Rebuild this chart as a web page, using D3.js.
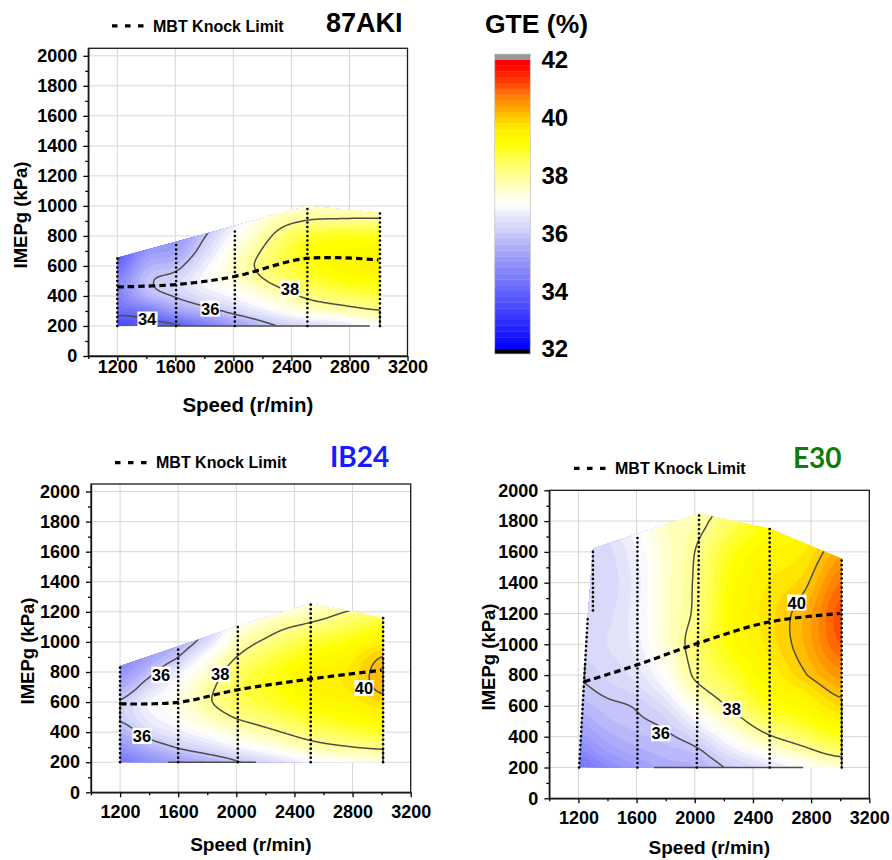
<!DOCTYPE html>
<html>
<head>
<meta charset="utf-8">
<script src="https://cdn.jsdelivr.net/npm/d3@7"></script>
<style>
  body { margin: 0; background: #fff; }
  svg text { font-family: "Liberation Sans", Arial, sans-serif; font-weight: bold; fill: #000; }
</style>
</head>
<body>
<svg id="fig" width="892" height="860"></svg>
<script>
// ---- GTE (%) maps: rows = engine speed (r/min), columns = IMEPg (kPa) ----
const speedGrid = [1200, 1400, 1600, 1800, 2000, 2250, 2500, 2750, 3000];

// 87AKI
const load87 = [200, 300, 400, 500, 600, 700, 800, 900, 1000];
const gte87 = [
  [33.5, 34.2, 34.6, 34.7, 34.15, 33.8, 33.6, 33.5, 33.5],
  [33.7, 34.45, 35.6, 35.85, 35.5, 35.0, 34.6, 34.3, 34.1],
  [33.9, 35.2, 36.05, 36.25, 35.8, 35.3, 35.0, 34.8, 34.6],
  [34.5, 35.7, 36.5, 36.9, 36.7, 36.3, 35.95, 35.6, 35.3],
  [35.2, 36.2, 36.9, 37.4, 37.55, 37.35, 37.0, 36.6, 36.3],
  [35.9, 36.8, 37.5, 38.05, 38.3, 38.2, 37.95, 37.6, 37.3],
  [36.3, 37.4, 38.1, 38.6, 38.9, 39.0, 38.7, 38.02, 37.5],
  [36.6, 37.7, 38.4, 39.0, 39.3, 39.2, 38.9, 38.1, 37.6],
  [37.1, 37.95, 38.6, 39.1, 39.45, 39.3, 38.9, 38.1, 37.7]
];
// measured sweeps (start/end of each speed column)
const sweeps87 = [
  [[1200, 200], [1200, 655]], [[1605, 200], [1605, 760]], [[2010, 200], [2010, 855]],
  [[2510, 200], [2510, 1000]], [[3010, 200], [3010, 955]]
];
const knock87 = [[1200, 460], [1600, 476], [2000, 528], [2500, 650], [3000, 640]];
const edges87 = [[[1465, 200], [2940, 200]], [[3010, 305], [3010, 200]]];
const labelLevels87 = [34, 36, 38];
const labelPos87 = [[1405, 243], [1840, 316], [2390, 449]];

// IB24
const loadIB = [200, 300, 400, 500, 600, 700, 800, 900, 1000, 1100, 1200, 1300];
const gteIB = [
  [34.4, 35.0, 35.6, 36.1, 36.05, 35.5, 35.0, 34.6, 34.4, 34.3, 34.2, 34.2],
  [34.9, 35.6, 36.3, 36.7, 36.8, 36.35, 35.8, 35.3, 35.0, 34.8, 34.7, 34.6],
  [35.3, 36.05, 36.7, 37.1, 37.25, 37.1, 36.7, 36.0, 35.5, 35.2, 35.0, 34.9],
  [35.6, 36.4, 37.1, 37.6, 37.9, 37.8, 37.5, 37.1, 36.4, 36.0, 35.8, 35.6],
  [35.95, 36.8, 37.5, 38.05, 38.4, 38.5, 38.35, 38.0, 37.6, 37.2, 36.9, 36.7],
  [36.4, 37.25, 37.9, 38.4, 38.8, 38.95, 38.9, 38.6, 38.2, 37.8, 37.4, 37.1],
  [36.9, 37.7, 38.3, 38.8, 39.2, 39.4, 39.4, 39.1, 38.7, 38.15, 37.6, 37.2],
  [37.2, 37.95, 38.6, 39.1, 39.4, 39.6, 39.6, 39.4, 39.0, 38.5, 38.0, 37.5],
  [37.4, 38.1, 38.8, 39.35, 39.8, 40.1, 40.15, 40.0, 39.5, 38.9, 38.3, 37.8]
];
const sweepsIB = [
  [[1200, 200], [1200, 840]], [[1600, 200], [1600, 960]], [[2010, 200], [2010, 1104]],
  [[2512, 200], [2512, 1255]], [[3010, 200], [3010, 1160]]
];
const knockIB = [[1200, 588], [1600, 598], [2000, 680], [2500, 752], [3000, 812]];
const edgesIB = [[[1530, 200], [2135, 200]], [[1200, 470], [1200, 615]],
                 [[3010, 282], [3010, 200]], [[3010, 660], [3010, 900]]];
const labelLevelsIB = [36, 38, 36, 40];
const labelPosIB = [[1482, 782], [1889, 787], [1351, 375], [2879, 693]];

// E30
const loadE30 = [200, 300, 400, 500, 600, 700, 800, 1000, 1200, 1400, 1600, 1800, 1900];
const gteE30 = [
  [34.3, 34.7, 35.1, 35.4, 35.7, 35.9, 36.05, 36.3, 36.4, 36.4, 36.4, 36.4, 36.4],
  [34.8, 35.2, 35.5, 35.75, 35.9, 36.1, 36.25, 36.4, 36.35, 36.3, 36.35, 36.5, 36.5],
  [35.2, 35.5, 35.75, 35.92, 36.05, 36.3, 36.5, 36.7, 36.75, 36.7, 36.8, 37.0, 37.0],
  [35.5, 35.7, 35.9, 36.15, 36.45, 36.8, 37.1, 37.45, 37.5, 37.5, 37.5, 37.6, 37.6],
  [35.6, 35.85, 36.3, 36.8, 37.3, 37.75, 38.1, 38.28, 38.1, 38.06, 38.0, 37.8, 37.7],
  [36.1, 36.6, 37.15, 37.65, 38.1, 38.45, 38.75, 39.1, 39.2, 39.1, 38.9, 38.4, 38.3],
  [36.5, 37.2, 37.9, 38.45, 38.9, 39.2, 39.4, 39.65, 39.7, 39.6, 39.35, 39.1, 39.0],
  [37.0, 37.75, 38.4, 38.9, 39.3, 39.6, 39.95, 40.2, 40.2, 39.9, 39.6, 39.3, 39.2],
  [37.45, 38.25, 38.9, 39.4, 39.8, 40.15, 40.5, 41.0, 41.1, 40.8, 40.3, 39.8, 39.6]
];
const sweepsE30 = [
  [[1205, 200], [1265, 1180]], [[1300, 1220], [1300, 1620]], [[1606, 200], [1606, 1710]],
  [[2014, 200], [2030, 1850]], [[2515, 200], [2515, 1750]], [[3010, 200], [3010, 1555]]
];
const knockE30 = [[1240, 757], [1600, 865], [2000, 1000], [2500, 1143], [3000, 1200]];
const edgesE30 = [[[1720, 200], [2745, 200]], [[3010, 650], [3010, 200]], [[1239, 757], [1246, 876]]];
const labelLevelsE30 = [36, 38, 40];
const labelPosE30 = [[1766, 422], [2254, 577], [2701, 1271]];

// contour line levels and colour scale
const lineLevels = [34, 36, 38, 40];
const gteStops = [32, 33.2, 34.3, 35.5, 36.1, 36.65, 37.0, 37.35, 37.8, 38.4, 39.1, 39.6, 40.1, 40.7, 41.25, 41.85, 42];
const gteColors = ["#0000ff", "#3c3cff", "#7373fa", "#acacfa", "#d0d0fa", "#eaeafa", "#ffffff", "#ffffe1",
                   "#ffffaa", "#ffff64", "#ffff00", "#fff000", "#ffbe00", "#ff8200", "#ff3c00", "#ff0000", "#ff0000"];
const colorbarTicks = [32, 34, 36, 38, 40, 42];

const color = d3.scaleLinear().domain(gteStops).range(gteColors).interpolate(d3.interpolateRgb).clamp(true);
const svg = d3.select("#fig");

// fractional index of v within a monotone axis, clamped to its ends
function fracIndex(arr, v) {
  const n = arr.length;
  if (v <= arr[0]) return 0;
  if (v >= arr[n - 1]) return n - 1;
  let k = 0;
  while (v > arr[k + 1]) k++;
  return k + (v - arr[k]) / (arr[k + 1] - arr[k]);
}

// smooth (Catmull-Rom) surface through the table
function makeField(xs, ys, table) {
  const nx = xs.length, ny = ys.length;
  const g = (i, j) => table[Math.max(0, Math.min(nx - 1, i))][Math.max(0, Math.min(ny - 1, j))];
  const cr = (p0, p1, p2, p3, t) =>
    0.5 * (2 * p1 + (-p0 + p2) * t + (2 * p0 - 5 * p1 + 4 * p2 - p3) * t * t + (-p0 + 3 * p1 - 3 * p2 + p3) * t * t * t);
  return (x, y) => {
    const fx = fracIndex(xs, x), fy = fracIndex(ys, y);
    let i = Math.min(Math.floor(fx), nx - 2), j = Math.min(Math.floor(fy), ny - 2);
    const tx = fx - i, ty = fy - j;
    const c = [];
    for (let dj = -1; dj <= 2; dj++) c.push(cr(g(i - 1, j + dj), g(i, j + dj), g(i + 1, j + dj), g(i + 2, j + dj), tx));
    return cr(c[0], c[1], c[2], c[3], ty);
  };
}

let clipId = 0;
function drawChart(cfg) {
  const g = svg.append("g");
  const xS = d3.scaleLinear([1000, 3200], [cfg.x0, cfg.x1]);
  const yS = d3.scaleLinear([0, cfg.yMax], [cfg.y1, cfg.y0]);

  // grid
  g.append("g").selectAll("line").data(d3.range(1200, 3200, 400)).join("line")
    .attr("x1", d => xS(d)).attr("x2", d => xS(d)).attr("y1", cfg.y0).attr("y2", cfg.y1)
    .attr("stroke", "#d6d6d6").attr("stroke-width", 1);
  g.append("g").selectAll("line").data(d3.range(200, Math.min(2001, cfg.yMax), 200)).join("line")
    .attr("x1", cfg.x0).attr("x2", cfg.x1).attr("y1", d => yS(d)).attr("y2", d => yS(d))
    .attr("stroke", "#d6d6d6").attr("stroke-width", 1);

  // measured region
  const pts = cfg.sweeps.flat();
  const hull = d3.polygonHull(pts.map(p => [xS(p[0]), yS(p[1])]));
  const id = "region" + (clipId++);
  svg.append("defs").append("clipPath").attr("id", id)
    .append("path").attr("d", "M" + hull.join("L") + "Z");

  // sampled surface
  const field = makeField(speedGrid, cfg.loads, cfg.table);
  const sx = 8, sy = 8, gx0 = 1150, gy0 = 150;
  const nx = Math.ceil((3070 - gx0) / sx) + 1;
  const ny = Math.ceil((d3.max(pts, p => p[1]) + 70 - gy0) / sy) + 1;
  const values = new Float64Array(nx * ny);
  for (let j = 0; j < ny; j++)
    for (let i = 0; i < nx; i++) values[j * nx + i] = field(gx0 + i * sx, gy0 + j * sy);
  const proj = d3.geoTransform({
    point(cx, cy) { this.stream.point(xS(gx0 + (cx - 0.5) * sx), yS(gy0 + (cy - 0.5) * sy)); }
  });
  const path = d3.geoPath(proj);

  const [vmin, vmax] = d3.extent(values);
  const bands = d3.range(Math.floor(vmin * 5), Math.ceil(vmax * 5)).map(k => k / 5);
  const filled = d3.contours().size([nx, ny]).thresholds(bands)(values);
  const body = g.append("g").attr("clip-path", `url(#${id})`);
  body.selectAll("path.band").data(filled).join("path").attr("class", "band")
    .attr("d", path).attr("fill", d => color(d.value + 0.1)).attr("stroke", "none");

  const iso = d3.contours().size([nx, ny]).thresholds(lineLevels)(values);
  body.selectAll("path.iso").data(iso).join("path").attr("class", "iso")
    .attr("d", path).attr("fill", "none").attr("stroke", "#4d4d4d").attr("stroke-width", 1.5);

  const line = d3.line().x(d => xS(d[0])).y(d => yS(d[1]));
  g.append("g").selectAll("path").data(cfg.edges).join("path")
    .attr("d", line).attr("fill", "none").attr("stroke", "#4d4d4d").attr("stroke-width", 1.5);

  // measurement sweeps
  g.append("g").selectAll("path").data(cfg.sweeps).join("path")
    .attr("d", line).attr("fill", "none").attr("stroke", "#000").attr("stroke-width", 2.7)
    .attr("stroke-linecap", "round").attr("stroke-dasharray", "0,4.5");

  // MBT knock limit
  g.append("path").datum(cfg.knock)
    .attr("d", d3.line().x(d => xS(d[0])).y(d => yS(d[1])).curve(d3.curveCatmullRom.alpha(0.5)))
    .attr("fill", "none").attr("stroke", "#000").attr("stroke-width", 3.2).attr("stroke-dasharray", "6.5,4");

  // contour labels
  cfg.labelLevels.forEach((lv, k) => {
    const [sp, ld] = cfg.labelPos[k];
    const lg = g.append("g");
    const t = lg.append("text").attr("x", xS(sp)).attr("y", yS(ld)).attr("text-anchor", "middle")
      .attr("dy", "0.36em").style("font-size", "16.5px").text(lv);
    const b = t.node().getBBox();
    lg.insert("rect", "text").attr("x", b.x - 0.5).attr("y", yS(ld) - 8).attr("width", b.width + 1)
      .attr("height", 16).attr("fill", "#fff");
  });

  // axes
  const styleAxis = sel => {
    sel.selectAll("path,line").attr("stroke", "#000").attr("stroke-width", 1.3);
    sel.selectAll("text").style("font-size", "18px").style("font-weight", "bold").attr("fill", "#000");
  };
  g.append("g").attr("transform", `translate(0,${cfg.y1})`)
    .call(d3.axisBottom(xS).tickValues(d3.range(1200, 3201, 400)).tickSize(5).tickSizeOuter(0)
      .tickPadding(cfg.xPad).tickFormat(d3.format("d"))).call(styleAxis);
  g.append("g").attr("transform", `translate(0,${cfg.y1})`)
    .call(d3.axisBottom(xS).tickValues(d3.range(1000, 3201, 400)).tickSize(3).tickSizeOuter(0).tickFormat(""))
    .call(styleAxis).select(".domain").remove();
  g.append("g").attr("transform", `translate(${cfg.x0},0)`)
    .call(d3.axisLeft(yS).tickValues(d3.range(0, 2001, 200)).tickSize(5).tickSizeOuter(0)
      .tickPadding(6).tickFormat(d3.format("d"))).call(styleAxis);
  g.append("g").attr("transform", `translate(${cfg.x0},0)`)
    .call(d3.axisLeft(yS).tickValues(d3.range(100, 2001, 200)).tickSize(3).tickSizeOuter(0).tickFormat(""))
    .call(styleAxis).select(".domain").remove();
  g.append("rect").attr("x", cfg.x0).attr("y", cfg.y0).attr("width", cfg.x1 - cfg.x0)
    .attr("height", cfg.y1 - cfg.y0).attr("fill", "none").attr("stroke", "#1a1a1a").attr("stroke-width", 1.3);

  // axis titles
  g.append("text").attr("x", (cfg.x0 + cfg.x1) / 2).attr("y", cfg.speedY).attr("text-anchor", "middle")
    .style("font-size", cfg.speedSize + "px").text("Speed (r/min)");
  g.append("text").attr("transform", `translate(${cfg.imepX},${cfg.imepY}) rotate(-90)`)
    .attr("text-anchor", "middle").style("font-size", "18.5px").text("IMEPg (kPa)");

  // legend
  g.append("line").attr("x1", cfg.legX).attr("x2", cfg.legX + 31.5).attr("y1", cfg.legY).attr("y2", cfg.legY)
    .attr("stroke", "#000").attr("stroke-width", 3.2).attr("stroke-dasharray", "5.5,7.5");
  g.append("text").attr("x", cfg.legX + 41).attr("y", cfg.legY + 5.7).style("font-size", "16px").text("MBT Knock Limit");

  // fuel name
  g.append("text").attr("x", cfg.title.x).attr("y", cfg.title.y)
    .style("font-family", cfg.title.font).style("font-size", cfg.title.size + "px")
    .style("fill", cfg.title.color).text(cfg.title.text);
}

drawChart({
  x0: 88.3, x1: 407.5, y0: 48.3, y1: 356, yMax: 2050, xPad: -0.5,
  loads: load87, table: gte87, sweeps: sweeps87, knock: knock87, edges: edges87,
  labelLevels: labelLevels87, labelPos: labelPos87,
  speedY: 412, speedSize: 20.5, imepX: 27, imepY: 215, legX: 112, legY: 25.8,
  title: { text: "87AKI", x: 326, y: 31.7, size: 27, color: "#000", font: "Liberation Sans" }
});
drawChart({
  x0: 91, x1: 410.7, y0: 484, y1: 792.3, yMax: 2050, xPad: 8,
  loads: loadIB, table: gteIB, sweeps: sweepsIB, knock: knockIB, edges: edgesIB,
  labelLevels: labelLevelsIB, labelPos: labelPosIB,
  speedY: 850.5, speedSize: 19, imepX: 33.5, imepY: 651, legX: 115, legY: 462.7,
  title: { text: "IB24", x: 330, y: 467.3, size: 28, color: "#1a1aff", font: "Lato" }
});
drawChart({
  x0: 549.3, x1: 869.3, y0: 490.3, y1: 798.3, yMax: 2000, xPad: 8,
  loads: loadE30, table: gteE30, sweeps: sweepsE30, knock: knockE30, edges: edgesE30,
  labelLevels: labelLevelsE30, labelPos: labelPosE30,
  speedY: 854, speedSize: 19, imepX: 495, imepY: 657, legX: 574, legY: 468.3,
  title: { text: "E30", x: 793, y: 468.3, size: 28, color: "#0a7d0a", font: "Lato" }
});

// colour bar
const cb = svg.append("g");
const cbY = d3.scaleLinear([32, 42], [348.7, 59.7]);
cb.append("rect").attr("x", 494.7).attr("y", 54).attr("width", 35.6).attr("height", 5.7).attr("fill", "#999");
cb.append("rect").attr("x", 494.7).attr("y", 348.7).attr("width", 35.6).attr("height", 5.3).attr("fill", "#000");
cb.selectAll("rect.step").data(d3.range(160, 210).map(k => k / 5)).join("rect").attr("class", "step")
  .attr("x", 494.7).attr("width", 35.6).attr("y", d => cbY(d + 0.2)).attr("height", d => cbY(d) - cbY(d + 0.2) + 0.3)
  .attr("fill", d => color(d + 0.1));
cb.append("rect").attr("x", 494.7).attr("y", 54).attr("width", 35.6).attr("height", 300)
  .attr("fill", "none").attr("stroke", "#c8c8c8").attr("stroke-width", 0.8);
cb.selectAll("text.tick").data(colorbarTicks).join("text").attr("class", "tick")
  .attr("x", 541.5).attr("y", d => cbY(d)).attr("dy", "0.36em").style("font-size", "24px").text(d => d);
cb.append("text").attr("x", 485).attr("y", 32.5).style("font-size", "26.5px").text("GTE (%)");
</script>
</body>
</html>
